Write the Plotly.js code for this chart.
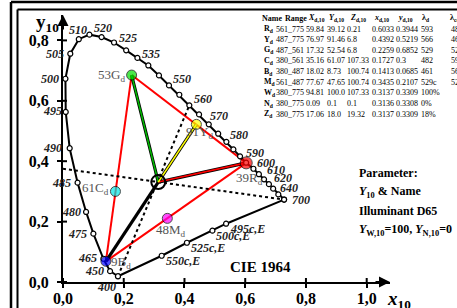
<!DOCTYPE html>
<html><head><meta charset="utf-8">
<script src="https://cdn.plot.ly/plotly-3.0.1.min.js"></script>
<style>html,body{margin:0;padding:0;background:#fff;overflow:hidden}</style>
</head><body><div id="chart" style="width:457px;height:308px"></div>
<script>
// ---------------- data ----------------
const locusWl = [400,450,465,475,480,485,490,495,500,505,510,515,520,525,530,535,540,545,550,555,560,565,570,575,580,585,590,595,600,605,610,615,620,640,700];
const locusX  = [0.181,0.155,0.133,0.100,0.076,0.048,0.022,0.009,0.008,0.024,0.052,0.087,0.127,0.168,0.208,0.245,0.281,0.316,0.349,0.383,0.416,0.448,0.480,0.511,0.538,0.561,0.583,0.603,0.627,0.645,0.662,0.678,0.692,0.709,0.728];
const locusY  = [0.019,0.036,0.077,0.160,0.232,0.329,0.443,0.563,0.673,0.756,0.804,0.819,0.811,0.793,0.767,0.742,0.717,0.684,0.651,0.620,0.585,0.555,0.522,0.491,0.464,0.439,0.416,0.395,0.375,0.357,0.340,0.324,0.309,0.290,0.273];
const wlLabels = [400,450,465,475,480,485,490,495,500,505,510,520,525,535,550,560,570,580,590,600,610,620,640,700];

const purpleLbl = ['400','550c,E','525c,E','500c,E','495c,E','700'];
const purpleX   = [0.181,0.325,0.408,0.492,0.537,0.728];
const purpleY   = [0.019,0.087,0.130,0.170,0.193,0.273];

const sampleName = ['R','Y','G','C','B','M','W'];
const sampleNum  = ['39','91','53','61','9','48',''];
const sampleX    = [0.6033,0.4392,0.2259,0.1727,0.1413,0.3435,0.3137];
const sampleY    = [0.3944,0.5219,0.6852,0.3,0.0685,0.2107,0.3309];
const dotStartX = 0.0, dotStartY = 0.375;

const xTickVals = [0,0.2,0.4,0.6,0.8,1.0];
const xTickText = ['0,0','0,2','0,4','0,6','0,8','1,0'];
const yTickVals = [0,0.2,0.4,0.6,0.8];
const yTickText = ['0,0','0,2','0,4','0,6','0,8'];

const tblHead  = ['Name','Range','<i>X</i><sub>d,10</sub>','<i>Y</i><sub>d,10</sub>','<i>Z</i><sub>d,10</sub>','<i>x</i><sub>d,10</sub>','<i>y</i><sub>d,10</sub>','λ<sub>d</sub>','λ<sub>cd</sub>'];
const tblName  = ['R','Y','G','C','B','M','W','N','Z'];
const tblRange = ['561_775','487_775','487_561','380_561','380_487','561_487','380_775','380_775','380_775'];
const tblX     = ['59.84','76.97','17.32','35.16','18.02','77.67','94.81','0.09','17.06'];
const tblY     = ['39.12','91.46','52.54','61.07','8.73','47.65','100.0','0.1','18.0'];
const tblZ     = ['0.21','6.8','6.8','107.33','100.74','100.74','107.33','0.1','19.32'];
const tblx     = ['0.6033','0.4392','0.2259','0.1727','0.1413','0.3435','0.3137','0.3136','0.3137'];
const tbly     = ['0.3944','0.5219','0.6852','0.3','0.0685','0.2107','0.3309','0.3308','0.3309'];
const tblLd    = ['593','566','529','482','461','529c','100%','0%','18%'];
const tblLc    = ['482','461','529c','593','566','529','','',''];

const paramLines = ['Parameter:','<i>Y</i><sub>10</sub> &amp; Name','Illuminant D65','<i>Y</i><sub>W,10</sub>=100, <i>Y</i><sub>N,10</sub>=0'];
const diagramTitle = 'CIE 1964';

// ---------------- styling ----------------
const SERIF = '"Liberation Serif", "Times New Roman", Times, serif';
const W = 457, H = 308, ML = 63, MR = 67, MT = 15, MB = 26;
const PW = W - ML - MR, PH = H - MT - MB;
const SX = 303.7, SY = 302;            // px per unit
const px2p = px => (px - ML) / PW;
const py2p = py => (H - MB - py) / PH;
const colors = {R:'#ff0000', Y:'#ffff00', G:'#00dd00', C:'#00e8e8', B:'#0000ff', M:'#ff00ff'};

const idx = n => sampleName.indexOf(n);
const P = n => [sampleX[idx(n)], sampleY[idx(n)]];

const traces = [];
// red triangle lines G-B (through C), B-R (through M), G-R
traces.push({x:[P('G')[0],P('B')[0],null,P('B')[0],P('R')[0],null,P('G')[0],P('R')[0]],
             y:[P('G')[1],P('B')[1],null,P('B')[1],P('R')[1],null,P('G')[1],P('R')[1]],
             mode:'lines', line:{color:'#ff0000', width:2}, hoverinfo:'skip'});
// dotted lines
const i400 = locusWl.indexOf(400), i560 = locusWl.indexOf(560), i700 = locusWl.indexOf(700);
traces.push({x:[locusX[i400], locusX[i560], null, dotStartX, locusX[i700]],
             y:[locusY[i400], locusY[i560], null, dotStartY, locusY[i700]],
             mode:'lines', line:{color:'#000', width:2, dash:'dot'}, hoverinfo:'skip'});
// black lines from W
const Wp = P('W');
traces.push({x:[Wp[0],P('B')[0],null,Wp[0],P('R')[0],null,Wp[0],P('G')[0],null,Wp[0],P('Y')[0]],
             y:[Wp[1],P('B')[1],null,Wp[1],P('R')[1],null,Wp[1],P('G')[1],null,Wp[1],P('Y')[1]],
             mode:'lines', line:{color:'#000', width:3.2}, hoverinfo:'skip'});
['R','G','Y'].forEach(n => {
  traces.push({x:[Wp[0],P(n)[0]], y:[Wp[1],P(n)[1]], mode:'lines',
               line:{color: n==='G' ? '#00bb00' : colors[n], width:1.6}, hoverinfo:'skip'});
});
// spectral locus
traces.push({x:locusX, y:locusY, mode:'lines+markers', line:{color:'#000', width:2},
             marker:{symbol:'circle', size:5, color:'#fff', line:{color:'#000', width:1.2}}, hoverinfo:'skip', cliponaxis:false});
// purple line
traces.push({x:purpleX, y:purpleY, mode:'lines+markers', line:{color:'#000', width:2},
             marker:{symbol:'circle', size:5, color:'#fff', line:{color:'#000', width:1.2}}, hoverinfo:'skip', cliponaxis:false});
// samples
traces.push({x:sampleX.slice(0,6), y:sampleY.slice(0,6), mode:'markers',
             marker:{size:sampleName.slice(0,6).map(n=> n==='R'?12:10), color:sampleName.slice(0,6).map(n=>colors[n]), line:{color:'#000', width:1}},
             hoverinfo:'skip', cliponaxis:false});
traces.push({x:[Wp[0]], y:[Wp[1]], mode:'markers', marker:{symbol:'circle-open', size:14, color:'#000', line:{width:2}}, hoverinfo:'skip'});

// ---------------- annotations ----------------
const ann = [];
const txt = (px, py, text, o={}) => ann.push(Object.assign({xref:'paper', yref:'paper', x:px2p(px), y:py2p(py), text, showarrow:false,
  xanchor:'left', yanchor:'middle', borderpad:0, font:{family:SERIF, size:12, color:'#000'}}, o));

// wavelength labels: [xanchor, xshift, yshift]
const wlPos = {400:['right',-1,-11],450:['right',-5,0],465:['right',-5,1],475:['right',-5,0],480:['right',-4,0],485:['right',-6,0],
  490:['right',-7,0],495:['right',-3,1],500:['right',-5,0],505:['right',-5,0],510:['center',-1,9],520:['center',1,9],
  525:['left',4,5],535:['left',4,4],550:['left',3,6],560:['left',4,6],570:['left',0,8],580:['left',3,7],590:['left',5,3],
  600:['left',3,6],610:['left',2,9],620:['left',0,11],640:['left',1,6],700:['left',7,0]};
wlLabels.forEach(w => {
  const i = locusWl.indexOf(w), p = wlPos[w];
  ann.push({x:locusX[i], y:locusY[i], xref:'x', yref:'y', text:String(w), showarrow:false, xanchor:p[0], yanchor:'middle',
    xshift:p[1], yshift:p[2], borderpad:0, font:{family:SERIF, size:12, color:'#222', weight:'bold', style:'italic'}});
});
// purple line labels
purpleLbl.forEach((t,i) => {
  if (i===0 || i===purpleLbl.length-1) return;
  ann.push({x:purpleX[i], y:purpleY[i], xref:'x', yref:'y', text:t, showarrow:false, xanchor:'left', yanchor:'middle',
    xshift:3, yshift:-5, borderpad:0, font:{family:SERIF, size:12, color:'#222', weight:'bold', style:'italic'}});
});
// sample labels: [xanchor, xshift, yshift]
const sPos = {R:['center',3,-16], Y:['center',3,-8], G:['right',-6,0], C:['right',-5,3], B:['left',4,-1], M:['center',4,-12]};
sampleName.forEach((n,i) => {
  if (!sampleNum[i]) return;
  const p = sPos[n];
  ann.push({x:sampleX[i], y:sampleY[i], xref:'x', yref:'y', text:sampleNum[i]+n+'<sub>d</sub>', showarrow:false,
    xanchor:p[0], yanchor:'middle', xshift:p[1], yshift:p[2], borderpad:0, font:{family:SERIF, size:13, color:'#555'}});
});
// axis titles
txt(47, 23, 'y<sub>10</sub>', {xanchor:'center', font:{family:SERIF, size:19, weight:'bold', color:'#000'}});
txt(399, 300, '<i>x</i><sub>10</sub>', {xanchor:'center', font:{family:SERIF, size:19, weight:'bold', color:'#000'}});
// diagram title
txt(260, 267, diagramTitle, {xanchor:'center', font:{family:SERIF, size:15, weight:'bold', color:'#000'}});
// parameter block
const paramY = [172.7, 191.7, 210.7, 230];
paramLines.forEach((t,i) => txt(358, paramY[i], t, {font:{family:SERIF, size:12, weight:'bold', color:'#000'}}));
// table
const headX = [261, 284, 307, 328, 348.5, 372.5, 396.5, 421, 449];
const colX  = [263, 274.5, 305, 325.5, 346, 370.5, 395, 419.5, 450];
const tf = {family:SERIF, size:8, color:'#000'};
tblHead.forEach((t,j) => txt(headX[j], 18.3, t, {font:Object.assign({}, tf, {weight:'bold'})}));
const cols = [tblRange, tblX, tblY, tblZ, tblx, tbly, tblLd, tblLc];
tblName.forEach((n,i) => {
  const y = 29 + i*10.66;
  txt(colX[0], y, n+'<sub>d</sub>', {font:Object.assign({}, tf, {weight:'bold'})});
  cols.forEach((c,j) => { if (c[i]) txt(colX[j+1], y, c[i], {font:tf}); });
});
// axis arrows
ann.push({xref:'paper', yref:'paper', x:0, y:1, ax:0, ay:16, text:'', showarrow:true, arrowhead:2, arrowsize:1.1, arrowwidth:2, arrowcolor:'#000'});
ann.push({xref:'paper', yref:'paper', x:1, y:0, ax:-16, ay:0, text:'', showarrow:true, arrowhead:2, arrowsize:1.1, arrowwidth:2, arrowcolor:'#000'});

// ---------------- shapes ----------------
const shapes = [];
const frameLine = (x0,y0,x1,y1,w) => shapes.push({type:'line', xref:'paper', yref:'paper', x0:px2p(x0), y0:py2p(y0), x1:px2p(x1), y1:py2p(y1), line:{color:'#000', width:w}});
frameLine(11, 2, 11, 320, 2.5); frameLine(11, 2, 470, 2, 2.5);
frameLine(17.5, 9.5, 17.5, 320, 2); frameLine(17.5, 9.5, 470, 9.5, 2);
// inner halves of ticks (crossing ticks)
xTickVals.forEach(v => shapes.push({type:'line', xref:'x', yref:'y', ysizemode:'pixel', yanchor:0, x0:v, x1:v, y0:0, y1:4, line:{color:'#000', width:2}}));
yTickVals.forEach(v => shapes.push({type:'line', xref:'x', yref:'y', xsizemode:'pixel', xanchor:0, y0:v, y1:v, x0:0, x1:4, line:{color:'#000', width:2}}));

const axisCommon = {showline:true, linewidth:2, linecolor:'#000', ticks:'outside', ticklen:4, tickwidth:2, tickcolor:'#000',
  showgrid:false, zeroline:false, fixedrange:true, tickfont:{family:SERIF, size:16, weight:'bold', color:'#000'}};
const layout = {
  width:W, height:H, margin:{l:ML, r:MR, t:MT, b:MB, pad:0}, paper_bgcolor:'#fff', plot_bgcolor:'rgba(0,0,0,0)', showlegend:false,
  xaxis:Object.assign({}, axisCommon, {range:[0, PW/SX], tickvals:xTickVals, ticktext:xTickText, ticklabelstandoff:-3}),
  yaxis:Object.assign({}, axisCommon, {range:[0, PH/SY], tickvals:yTickVals, ticktext:yTickText, ticklabelstandoff:5}),
  annotations:ann, shapes:shapes
};
Plotly.newPlot('chart', traces, layout, {displayModeBar:false, staticPlot:true});
</script></body></html>
